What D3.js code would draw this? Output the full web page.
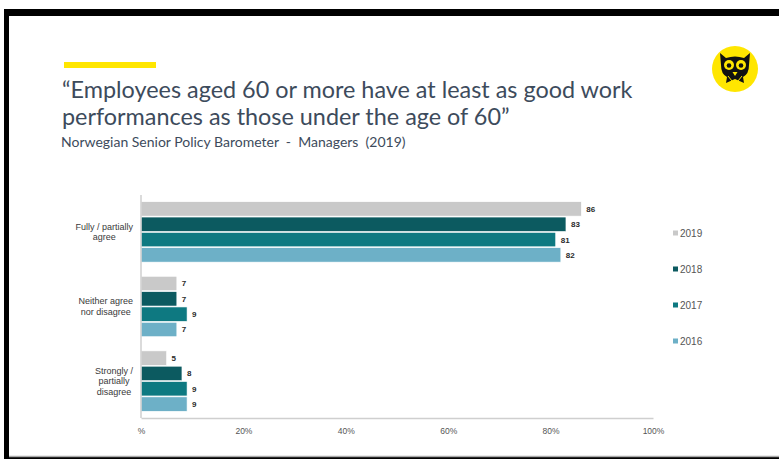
<!DOCTYPE html>
<html>
<head>
<meta charset="utf-8">
<script src="https://cdn.jsdelivr.net/npm/d3@7"></script>
<style>
  body { margin: 0; background: #fff; }
  svg text { font-family: "Liberation Sans", Arial, sans-serif; }
</style>
</head>
<body>
<svg id="chart" width="779" height="459"></svg>
<script>
// answer categories and survey years
var categories = ["Fully / partially agree", "Neither agree nor disagree", "Strongly / partially disagree"];
var catLines = [["Fully / partially", "agree"], ["Neither agree", "nor disagree"], ["Strongly /", "partially", "disagree"]];
var years = ["2019", "2018", "2017", "2016"];
var values2019 = [86, 7, 5];
var values2018 = [83, 7, 8];
var values2017 = [81, 9, 9];
var values2016 = [82, 7, 9];
var tickValues = [0, 20, 40, 60, 80, 100];
var tickLabels = ["%", "20%", "40%", "60%", "80%", "100%"];
var colors = ["#c9c9c9", "#0c5a60", "#0e7981", "#6db0c7"];

var series = [values2019, values2018, values2017, values2016];

var svg = d3.select("#chart");

// slide frame
svg.append("rect").attr("x", 4).attr("y", 9).attr("width", 780).attr("height", 460).attr("fill", "#000");
svg.append("rect").attr("x", 9).attr("y", 16).attr("width", 775).attr("height", 440).attr("fill", "#fff");
svg.append("line").attr("x1", 9).attr("x2", 779).attr("y1", 456.5).attr("y2", 456.5)
  .attr("stroke", "#aaa").attr("stroke-width", 1.5);

// yellow accent
svg.append("rect").attr("x", 64).attr("y", 62).attr("width", 92).attr("height", 6).attr("fill", "#ffe600");

// titles
var titleColor = "#3d4b5c";
svg.append("text").attr("x", 62).attr("y", 98).attr("fill", titleColor)
  .style("font-family", "Lato, sans-serif").style("font-size", "23.4px")
  .text("\u201cEmployees aged 60 or more have at least as good work");
svg.append("text").attr("x", 62).attr("y", 125).attr("fill", titleColor)
  .style("font-family", "Lato, sans-serif").style("font-size", "23.4px")
  .text("performances as those under the age of 60\u201d");
svg.append("text").attr("x", 61).attr("y", 147).attr("fill", titleColor)
  .style("font-family", "Lato, sans-serif").style("font-size", "14px").style("white-space", "pre")
  .text("Norwegian Senior Policy Barometer  -  Managers  (2019)");

// owl logo
var logo = svg.append("g").attr("transform", "translate(735,69)");
logo.append("circle").attr("r", 23).attr("fill", "#ffe600");
logo.append("path").attr("fill", "#111")
  .attr("d", "M-15,-16 L-9,-11 Q0,-14 9,-11 L15,-16 L14,-4 Q14,5 8,8 L9,14 L0,10 L-9,14 L-8,8 Q-14,5 -14,-4 Z");
[-6, 6].forEach(function(dx) {
  logo.append("circle").attr("cx", dx).attr("cy", -4).attr("r", 5).attr("fill", "#ffe600");
  logo.append("circle").attr("cx", dx).attr("cy", -3.5).attr("r", 2.3).attr("fill", "#111");
});
logo.append("path").attr("fill", "#ffe600").attr("d", "M-2.5,3 L2.5,3 L0,7 Z");
logo.append("path").attr("fill", "none").attr("stroke", "#ffe600").attr("stroke-width", 1)
  .attr("d", "M-7,7 L-3,12 M7,7 L3,12");

// scales
var x = d3.scaleLinear().domain([0, 100]).range([141, 653]);
var y0 = d3.scaleBand().domain(categories).range([195, 418]).paddingInner(0.19).paddingOuter(0.09);
var y1 = d3.scaleBand().domain(years).range([0, y0.bandwidth()]).paddingInner(0.06);

// bars
var groups = svg.selectAll("g.cat").data(categories).enter().append("g")
  .attr("class", "cat")
  .attr("transform", function(d) { return "translate(0," + y0(d) + ")"; });

years.forEach(function(yr, j) {
  groups.append("rect")
    .attr("x", x(0))
    .attr("y", y1(yr))
    .attr("width", function(d, i) { return x(series[j][i]) - x(0); })
    .attr("height", y1.bandwidth())
    .attr("fill", colors[j])
    .attr("stroke", "#fff").attr("stroke-width", 0.6);
  groups.append("text")
    .attr("x", function(d, i) { return x(series[j][i]) + 5; })
    .attr("y", y1(yr) + y1.bandwidth() / 2 + 3)
    .attr("fill", "#2a2a2a").style("font-size", "8px").style("font-weight", "bold")
    .text(function(d, i) { return series[j][i]; });
});

// category labels: lines centred inside a box whose right edge sits at x=133
groups.each(function(d, i) {
  var lines = catLines[i];
  var g = d3.select(this);
  var mid = y0.bandwidth() / 2;
  var texts = lines.map(function(l, k) {
    return g.append("text")
      .attr("fill", "#3a3a3a").style("font-size", "9px")
      .attr("text-anchor", "middle")
      .attr("y", mid + 3 + (k - (lines.length - 1) / 2) * 10.5)
      .text(l);
  });
  var maxW = d3.max(texts, function(t) { return t.node().getComputedTextLength(); });
  texts.forEach(function(t) { t.attr("x", 133 - maxW / 2); });
});

// axes
var xAxis = d3.axisBottom(x).tickValues(tickValues).tickSize(0)
  .tickFormat(function(d, i) { return tickLabels[i]; });
var gx = svg.append("g").attr("transform", "translate(0,418)").call(xAxis);
gx.select(".domain").attr("stroke", "#cfcfcf").attr("stroke-width", 1.5);
gx.selectAll("text").attr("dy", 0).attr("y", 16).attr("fill", "#555")
  .style("font-size", "8.5px").style("font-family", "Liberation Sans, Arial, sans-serif");

svg.append("line").attr("x1", x(0)).attr("x2", x(0)).attr("y1", 195).attr("y2", 418)
  .attr("stroke", "#cfcfcf").attr("stroke-width", 1.5);

// legend
var legend = svg.selectAll("g.leg").data(years).enter().append("g")
  .attr("class", "leg")
  .attr("transform", function(d, i) { return "translate(673," + (236.5 + i * 36) + ")"; });
legend.append("rect").attr("x", 0).attr("y", -6).attr("width", 5).attr("height", 5)
  .attr("fill", function(d, i) { return colors[i]; });
legend.append("text").attr("x", 7).attr("y", 0).attr("fill", "#555").style("font-size", "10px")
  .text(function(d) { return d; });
</script>
</body>
</html>
